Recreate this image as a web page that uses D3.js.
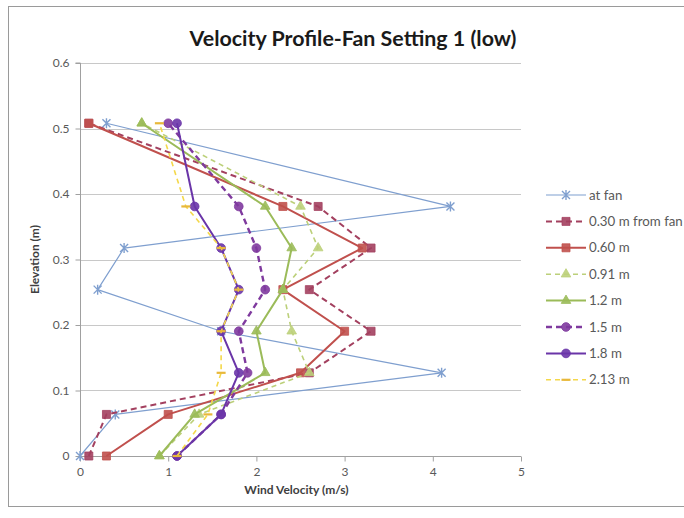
<!DOCTYPE html>
<html>
<head>
<meta charset="utf-8">
<script src="https://cdn.jsdelivr.net/npm/d3@7"></script>
<style>
  html, body { margin: 0; padding: 0; background: #fff; }
  svg { display: block; }
</style>
</head>
<body>
<svg id="chart" width="684" height="518"></svg>
<script>
// Measurement heights (m) shared by every profile
const elevations = [0, 0.0635, 0.127, 0.1905, 0.254, 0.3175, 0.381, 0.508];

// Wind velocity (m/s) at each elevation, one array per distance from the fan
const atFan    = [0.0, 0.4, 4.1, 1.6, 0.2, 0.5, 4.2, 0.3];
const m030     = [0.1, 0.3, 2.6, 3.3, 2.6, 3.3, 2.7, 0.1];
const m060     = [0.3, 1.0, 2.5, 3.0, 2.3, 3.2, 2.3, 0.1];
const m091     = [0.9, 1.35, 2.6, 2.4, 2.3, 2.7, 2.5, 0.7];
const m12      = [0.9, 1.3, 2.1, 2.0, 2.3, 2.4, 2.1, 0.7];
const m15      = [1.1, 1.6, 1.9, 1.8, 2.1, 2.0, 1.8, 1.0];
const m18      = [1.1, 1.6, 1.8, 1.6, 1.8, 1.6, 1.3, 1.1];
const m213     = [1.1, 1.45, 1.6, 1.6, 1.8, 1.6, 1.2, 0.9];

const seriesNames = ["at fan", "0.30 m from fan", "0.60 m", "0.91 m", "1.2 m", "1.5 m", "1.8 m", "2.13 m"];
const seriesValues = [atFan, m030, m060, m091, m12, m15, m18, m213];

const xTicks = [0, 1, 2, 3, 4, 5];
const yTicks = [0, 0.1, 0.2, 0.3, 0.4, 0.5, 0.6];

const titleText = "Velocity Profile-Fan Setting 1 (low)";
const xLabel = "Wind Velocity (m/s)";
const yLabel = "Elevation (m)";

// Line and marker styling per series
const styles = [
  { color: "#7f9fcf", width: 1.2, dash: null,  marker: "star" },
  { color: "#a3405f", width: 2,   dash: "6,4", marker: "square" },
  { color: "#c0504d", width: 2,   dash: null,  marker: "square" },
  { color: "#bcd07a", width: 1.6, dash: "5,4", marker: "triangle" },
  { color: "#9bbb59", width: 2,   dash: null,  marker: "triangle" },
  { color: "#7f3a9e", width: 2.4, dash: "6,4", marker: "circle" },
  { color: "#6a35a8", width: 2,   dash: null,  marker: "circle" },
  { color: "#f4d84a", width: 1.6, dash: "5,4", marker: "dash" }
];

const FONT = "Lato, 'Open Sans', 'Liberation Sans', sans-serif";

const svg = d3.select("#chart");

// Outer chart frame (right side runs off the page)
svg.append("rect")
  .attr("x", 8.5).attr("y", 6.5)
  .attr("width", 700).attr("height", 500)
  .attr("fill", "#fff")
  .attr("stroke", "#9a9a9a")
  .attr("stroke-width", 1);

const plot = { left: 80, right: 521, top: 63, bottom: 456 };

const x = d3.scaleLinear().domain([0, 5]).range([plot.left, plot.right]);
const y = d3.scaleLinear().domain([0, 0.6]).range([plot.bottom, plot.top]);

// Horizontal gridlines
svg.append("g")
  .selectAll("line")
  .data(yTicks.filter(d => d > 0))
  .join("line")
  .attr("x1", plot.left).attr("x2", plot.right)
  .attr("y1", d => Math.round(y(d)) + 0.5)
  .attr("y2", d => Math.round(y(d)) + 0.5)
  .attr("stroke", "#c8c8c8")
  .attr("stroke-width", 1);

// Axes
const yAxis = d3.axisLeft(y).tickValues(yTicks).tickSize(5).tickPadding(6)
  .tickFormat(d => d === 0 ? "0" : d3.format(".1f")(d));
const xAxis = d3.axisBottom(x).tickValues(xTicks).tickSize(5).tickPadding(6)
  .tickFormat(d3.format("d"));

const gy = svg.append("g").attr("transform", `translate(${plot.left + 0.5},0)`).call(yAxis);
const gx = svg.append("g").attr("transform", `translate(0,${plot.bottom + 0.5})`).call(xAxis);

[gx, gy].forEach(g => {
  g.select(".domain").attr("stroke", "#a0a0a0");
  g.selectAll(".tick line").attr("stroke", "#a0a0a0");
  g.selectAll(".tick text")
    .attr("fill", "#595959")
    .style("font-family", FONT)
    .style("font-size", "12px");
});
gy.select(".domain").attr("d", `M-5,${y(0.6)}H0V${y(0)}`);
gx.select(".domain").attr("d", `M${plot.left},0H${plot.right}`);

// Marker shapes
const markerPath = {
  square: d3.symbol(d3.symbolSquare, 64)(),
  circle: d3.symbol(d3.symbolCircle, 60)(),
  triangle: d3.symbol(d3.symbolTriangle, 40)(),
  star: "M-4,-4L4,4M-4,4L4,-4M0,-5V5",
  dash: "M-4.5,0H4.5"
};

function drawMarker(g, st) {
  if (st.marker === "star") {
    g.append("path").attr("d", markerPath.star)
      .attr("stroke", st.color).attr("stroke-width", 1.4).attr("fill", "none");
  } else if (st.marker === "dash") {
    g.append("path").attr("d", markerPath.dash)
      .attr("stroke", "#e8b83a").attr("stroke-width", 2.2).attr("fill", "none");
  } else {
    g.append("path").attr("d", markerPath[st.marker])
      .attr("fill", st.color).attr("stroke", st.color).attr("stroke-width", 0.8)
      .attr("fill-opacity", 0.9);
  }
}

const line = d3.line()
  .x(d => x(d.v))
  .y(d => y(d.e));

const seriesG = svg.append("g");
seriesValues.forEach((vals, i) => {
  const st = styles[i];
  const pts = vals.map((v, j) => ({ v, e: elevations[j] }));
  const g = seriesG.append("g");
  g.append("path")
    .datum(pts)
    .attr("d", line)
    .attr("fill", "none")
    .attr("stroke", st.color)
    .attr("stroke-width", st.width)
    .attr("stroke-dasharray", st.dash)
    .attr("stroke-linejoin", "round");
  pts.forEach(p => {
    const mg = g.append("g").attr("transform", `translate(${x(p.v)},${y(p.e)})`);
    drawMarker(mg, st);
  });
});

// Legend
const legend = svg.append("g");
const legendTop = 195, legendStep = 26.4;
seriesNames.forEach((name, i) => {
  const st = styles[i];
  const ly = legendTop + i * legendStep;
  const g = legend.append("g").attr("transform", `translate(0,${ly})`);
  g.append("line")
    .attr("x1", 546).attr("x2", 586)
    .attr("y1", 0).attr("y2", 0)
    .attr("stroke", st.color)
    .attr("stroke-width", st.width)
    .attr("stroke-dasharray", st.dash);
  drawMarker(g.append("g").attr("transform", "translate(566,0)"), st);
  g.append("text")
    .attr("x", 589).attr("y", 4.5)
    .attr("fill", "#595959")
    .style("font-family", FONT)
    .style("font-size", "13.3px")
    .text(name);
});

// Title, sized to span its full width
const titleWidth = 327;
const title = svg.append("text")
  .attr("x", 353).attr("y", 46)
  .attr("text-anchor", "middle")
  .attr("fill", "#1a1a1a")
  .style("font-family", FONT)
  .style("font-weight", "bold")
  .style("font-size", "19px")
  .text(titleText);
const tw = title.node().getComputedTextLength();
title.style("font-size", (19 * titleWidth / tw).toFixed(2) + "px");

// Axis titles
svg.append("text")
  .attr("x", (plot.left + plot.right) / 2 - 4).attr("y", 494)
  .attr("text-anchor", "middle")
  .attr("fill", "#404040")
  .style("font-family", FONT)
  .style("font-weight", "bold")
  .style("font-size", "12px")
  .text(xLabel);

svg.append("text")
  .attr("transform", `translate(39,${(plot.top + plot.bottom) / 2}) rotate(-90)`)
  .attr("text-anchor", "middle")
  .attr("fill", "#404040")
  .style("font-family", FONT)
  .style("font-weight", "bold")
  .style("font-size", "12px")
  .text(yLabel);
</script>
</body>
</html>
